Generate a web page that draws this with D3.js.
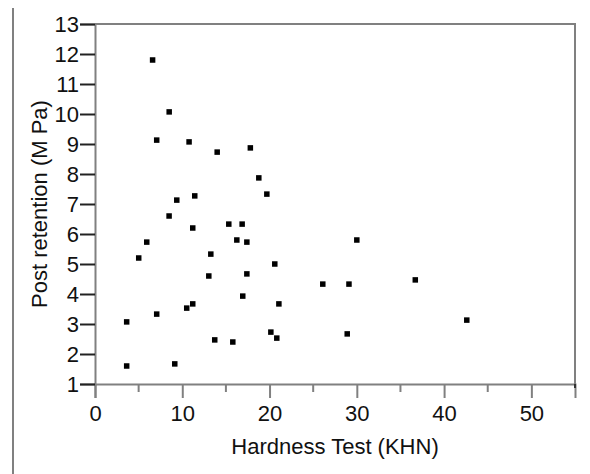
<!DOCTYPE html>
<html lang="en">
<head>
    <meta charset="UTF-8">
    <title>Post retention vs hardness</title>
    <script src="https://cdn.jsdelivr.net/npm/d3@7"></script>
</head>
<style>
    body{
        margin:0;
        background:#fff;
    }
    #chart text{
        font-family:"Liberation Sans", Arial, sans-serif;
        fill:#111;
    }
</style>
<body>
<div id="chart"></div>
<script>
    // hardness (KHN) and post retention (M Pa)
    var hardness = [6.6, 8.5, 7.07, 10.78, 14.0, 11.43, 9.37, 17.8, 18.77, 19.69,
        8.49, 11.2, 15.33, 16.86, 5.93, 16.25, 17.4, 5.01, 13.27, 13.04,
        20.6, 17.4, 26.1, 16.93, 21.07, 11.2, 10.51, 7.07, 3.63, 20.15,
        20.83, 15.79, 13.72, 9.14, 3.63, 29.1, 30.0, 36.7, 42.6, 28.9];
    var retention = [11.8, 10.07, 9.13, 9.07, 8.73, 7.27, 7.13, 8.87, 7.87, 7.33,
        6.6, 6.2, 6.33, 6.33, 5.73, 5.8, 5.73, 5.2, 5.33, 4.6,
        5.0, 4.67, 4.33, 3.93, 3.67, 3.67, 3.53, 3.33, 3.07, 2.73,
        2.53, 2.4, 2.47, 1.67, 1.6, 4.33, 5.8, 4.47, 3.13, 2.67];
    var xTicks = [0, 10, 20, 30, 40, 50];
    var xMinor = [5, 15, 25, 35, 45];
    var yTicks = [1, 2, 3, 4, 5, 6, 7, 8, 9, 10, 11, 12, 13];

    // plot box (window.top is taken, so no bare "top" here)
    var W = 590, H = 474;
    var pLeft = 95, pRight = 575, pTop = 24, pBottom = 384;
    var frame = "#808080";

    var svg = d3.select("#chart").append("svg")
        .attr("width", W)
        .attr("height", H);

    var x = d3.scaleLinear().domain([0, 55]).range([pLeft, pRight]);
    var y = d3.scaleLinear().domain([1, 13]).range([pBottom, pTop]);

    // stray vertical rule on the far left
    svg.append("line")
        .attr("x1", 13).attr("x2", 13)
        .attr("y1", 8).attr("y2", H)
        .style("stroke", frame).style("stroke-width", 2);

    // top and right frame
    svg.append("path")
        .attr("d", "M" + pLeft + "," + pTop + "H" + pRight + "V" + pBottom)
        .style("fill", "none").style("stroke", frame).style("stroke-width", 2);

    // x axis
    var xAxis = svg.append("g")
        .attr("transform", "translate(0," + pBottom + ")")
        .call(d3.axisBottom(x).tickValues(xTicks).tickSize(14).tickPadding(7).tickFormat(d3.format("d")));
    xAxis.select(".domain").style("stroke", frame).style("stroke-width", 2);
    xAxis.selectAll(".tick line").style("stroke", frame).style("stroke-width", 2);
    xAxis.selectAll(".tick text").style("font-size", "22px");
    xAxis.selectAll(".minor").data(xMinor).enter().append("line")
        .attr("class", "minor")
        .attr("x1", function(d){ return x(d); })
        .attr("x2", function(d){ return x(d); })
        .attr("y1", 0).attr("y2", 8)
        .style("stroke", frame).style("stroke-width", 2);
    xAxis.append("line")
        .attr("x1", pRight).attr("x2", pRight)
        .attr("y1", 0).attr("y2", 4)
        .style("stroke", "#333").style("stroke-width", 2);

    // y axis
    var yAxis = svg.append("g")
        .attr("transform", "translate(" + pLeft + ",0)")
        .call(d3.axisLeft(y).tickValues(yTicks).tickSize(15).tickPadding(1).tickFormat(d3.format("d")));
    yAxis.select(".domain").style("stroke", frame).style("stroke-width", 2);
    yAxis.selectAll(".tick line").style("stroke", "#222").style("stroke-width", 2);
    yAxis.selectAll(".tick text").style("font-size", "22px");

    // axis titles
    svg.append("text")
        .attr("x", (pLeft + pRight) / 2)
        .attr("y", 454)
        .attr("text-anchor", "middle")
        .style("font-size", "22px")
        .text("Hardness Test (KHN)");
    svg.append("text")
        .attr("transform", "translate(47," + (pTop + pBottom) / 2 + ") rotate(-90)")
        .attr("text-anchor", "middle")
        .style("font-size", "22px")
        .text("Post retention (M Pa)");

    // points
    var s = 5.5;
    svg.append("g").selectAll("rect")
        .data(d3.range(hardness.length))
        .enter().append("rect")
        .attr("x", function(i){ return x(hardness[i]) - s / 2; })
        .attr("y", function(i){ return y(retention[i]) - s / 2; })
        .attr("width", s)
        .attr("height", s)
        .style("fill", "#000");
</script>
</body>
</html>
